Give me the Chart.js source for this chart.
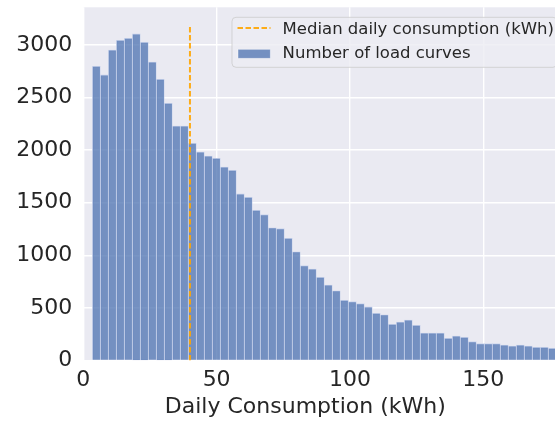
<!DOCTYPE html>
<html><head><meta charset="utf-8">
<script src="https://cdn.jsdelivr.net/npm/chart.js@4"></script>
<style>html,body{margin:0;padding:0;background:#fff;overflow:hidden}canvas{display:block}</style>
</head><body>
<canvas id="c" width="555" height="421"></canvas>
<script>
// ---- data ----
const binLefts = [3.4,6.4,9.4,12.4,15.4,18.4,21.4,24.4,27.4,30.4,33.4,36.4,39.4,42.4,45.4,48.4,51.4,54.4,57.4,60.4,
  63.4,66.4,69.4,72.4,75.4,78.4,81.4,84.4,87.4,90.4,93.4,96.4,99.4,102.4,105.4,108.4,111.4,114.4,117.4,120.4,
  123.4,126.4,129.4,132.4,135.4,138.4,141.4,144.4,147.4,150.4,153.4,156.4,159.4,162.4,165.4,168.4,171.4,174.4];
const binWidth = 3.0;
const counts = [2797,2714,2951,3044,3063,3104,3025,2837,2673,2445,2229,2229,2065,1982,1944,1922,1839,1808,1583,1551,
  1428,1386,1262,1253,1162,1034,901,870,791,718,663,572,559,540,509,449,435,344,366,385,
  335,261,261,261,211,233,221,179,160,160,160,147,138,147,138,125,125,116];
const medianValue = 40;
const medianTop = 3170;
const xTicks = [0, 50, 100, 150];
const yTicks = [0, 500, 1000, 1500, 2000, 2500, 3000];
const xRange = [0, 176.9];
const yRange = [0, 3357];
const xLabel = 'Daily Consumption (kWh)';
const seriesLabels = ['Median daily consumption (kWh)', 'Number of load curves'];

const FONT = '"DejaVu Sans", sans-serif';
const TEXT = '#262626';
const BAR = 'rgba(76,114,176,0.75)';
const ORANGE = 'rgba(255,165,0,0.9)';

const histData = binLefts.map((l, i) => ({x: l + binWidth / 2, y: counts[i]}));

const bgPlugin = {
  id: 'bg',
  beforeDraw(chart) {
    const {ctx, chartArea: a} = chart;
    ctx.save();
    ctx.fillStyle = '#ffffff';
    ctx.fillRect(0, 0, chart.width, chart.height);
    ctx.fillStyle = '#eaeaf2';
    ctx.fillRect(a.left, a.top, a.right - a.left, a.bottom - a.top);
    ctx.restore();
  }
};

const decorPlugin = {
  id: 'decor',
  afterDraw(chart) {
    const {ctx} = chart;
    ctx.save();
    // x axis label
    ctx.font = '22px ' + FONT;
    ctx.fillStyle = TEXT;
    ctx.textAlign = 'center';
    ctx.textBaseline = 'alphabetic';
    ctx.fillText(xLabel, 305.3, 412.7);
    // legend
    const bx = 232, by = 17.3, bw = 325, bh = 50;
    ctx.beginPath();
    ctx.roundRect(bx, by, bw, bh, 4);
    ctx.fillStyle = 'rgba(236,236,243,0.8)';
    ctx.fill();
    ctx.lineWidth = 1;
    ctx.strokeStyle = 'rgba(204,204,204,0.8)';
    ctx.stroke();
    const ds = chart.data.datasets;
    // handle 1: dashed line
    ctx.beginPath();
    ctx.setLineDash([5.5, 2.5]);
    ctx.strokeStyle = ds[0].borderColor;
    ctx.lineWidth = 2;
    ctx.moveTo(237.5, 28);
    ctx.lineTo(270.5, 28);
    ctx.stroke();
    ctx.setLineDash([]);
    // handle 2: patch
    ctx.fillStyle = ds[1].backgroundColor;
    ctx.fillRect(238, 49.3, 32.3, 9);
    ctx.strokeStyle = 'rgba(255,255,255,0.5)';
    ctx.lineWidth = 0.8;
    ctx.strokeRect(238, 49.3, 32.3, 9);
    ctx.font = '16.5px ' + FONT;
    ctx.fillStyle = TEXT;
    ctx.textAlign = 'left';
    ctx.fillText(ds[0].label, 282.6, 33.5);
    ctx.fillText(ds[1].label, 282.6, 58.3);
    ctx.restore();
  }
};

function zeroPad(s) { s.paddingTop = 0; s.paddingBottom = 0; s.paddingLeft = 0; s.paddingRight = 0; }

new Chart(document.getElementById('c'), {
  type: 'bar',
  data: {
    datasets: [
      {
        type: 'line',
        label: seriesLabels[0],
        data: [{x: medianValue, y: 0}, {x: medianValue, y: medianTop}],
        borderColor: ORANGE,
        borderWidth: 2,
        borderDash: [5.5, 2.5],
        pointRadius: 0,
        fill: false,
        order: 0
      },
      {
        type: 'bar',
        label: seriesLabels[1],
        data: histData,
        backgroundColor: BAR,
        borderColor: 'rgba(200,210,235,0.9)',
        borderWidth: 0.8,
        borderSkipped: 'bottom',
        barPercentage: 1,
        categoryPercentage: 1,
        order: 1
      }
    ]
  },
  options: {
    responsive: false,
    animation: false,
    devicePixelRatio: 1,
    layout: {padding: {top: 7.3, right: 0, left: 0, bottom: 0}},
    plugins: {legend: {display: false}, tooltip: {enabled: false}, title: {display: false}},
    scales: {
      x: {
        type: 'linear',
        min: xRange[0], max: xRange[1],
        offset: false,
        grid: {color: '#ffffff', lineWidth: 1.4, drawTicks: false, offset: false},
        border: {display: false},
        ticks: {font: {family: FONT, size: 22}, color: TEXT, padding: 7, maxRotation: 0,
                callback: v => String(v)},
        afterBuildTicks(s) { s.ticks = xTicks.map(v => ({value: v})); },
        afterFit(s) { s.height = 60.5; zeroPad(s); }
      },
      y: {
        type: 'linear',
        min: yRange[0], max: yRange[1],
        grid: {color: '#ffffff', lineWidth: 1.4, drawTicks: false},
        border: {display: false},
        ticks: {font: {family: FONT, size: 22}, color: TEXT, padding: 11,
                callback: v => String(v)},
        afterBuildTicks(s) { s.ticks = yTicks.map(v => ({value: v})); },
        afterFit(s) { s.width = 83.3; zeroPad(s); }
      }
    }
  },
  plugins: [bgPlugin, decorPlugin]
});
</script>
</body></html>
